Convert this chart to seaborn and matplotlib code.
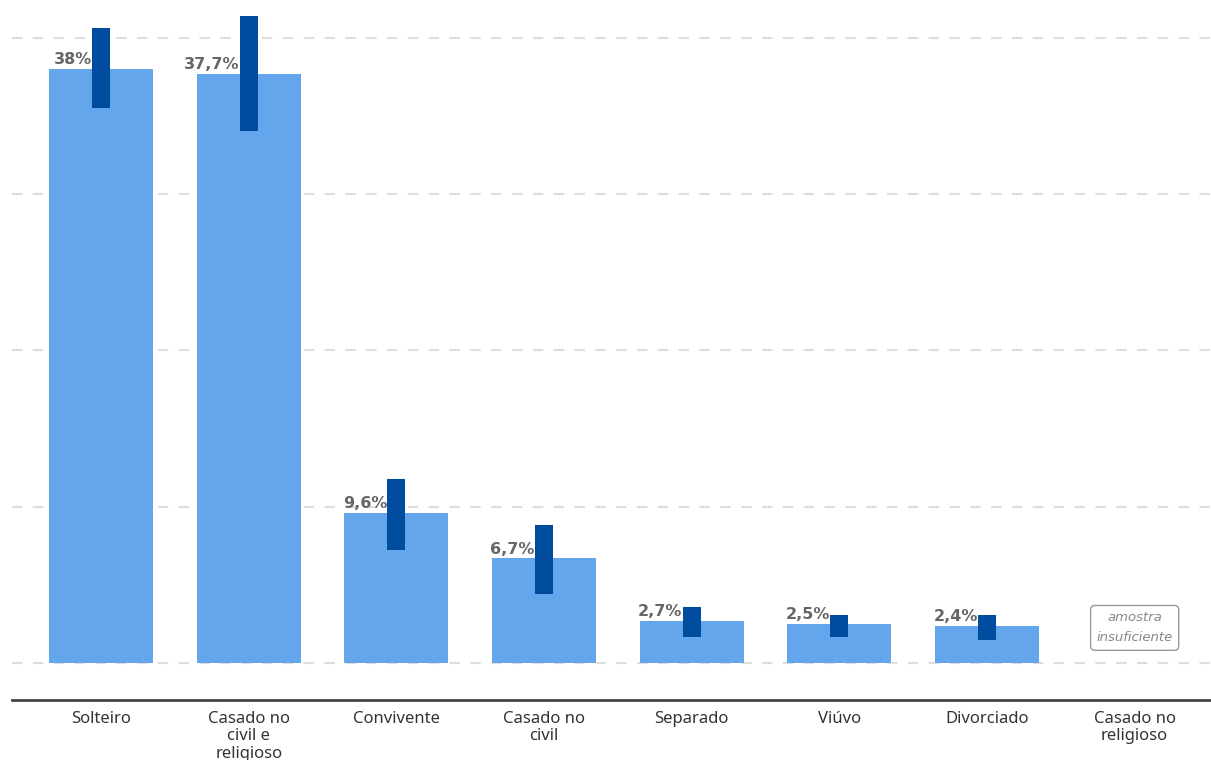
import matplotlib
matplotlib.use("Agg")
import matplotlib.pyplot as plt
import numpy as np
import pandas as pd
import seaborn as sns

categories = ["Solteiro", "Casado no\ncivil e\nreligioso", "Convivente", "Casado no\ncivil",
              "Separado", "Viúvo", "Divorciado", "Casado no\nreligioso"]
values = [38.0, 37.7, 9.6, 6.7, 2.7, 2.5, 2.4, np.nan]
labels = ["38%", "37,7%", "9,6%", "6,7%", "2,7%", "2,5%", "2,4%", ""]
err_low = [35.5, 34.0, 7.2, 4.4, 1.7, 1.7, 1.5, np.nan]
err_high = [40.6, 41.4, 11.8, 8.8, 3.6, 3.1, 3.1, np.nan]

sns.set_theme(style="white")
plt.rcParams["font.family"] = ["Noto Sans", "DejaVu Sans"]

df = pd.DataFrame({"cat": categories, "val": values})

fig = plt.figure(figsize=(12.11, 7.6), dpi=100)
ax = fig.add_axes([12 / 1211, 60 / 760, 1199 / 1211, 700 / 760])

sns.barplot(data=df, x="cat", y="val", color="#64A6EC", saturation=1, width=0.705,
            linewidth=0, ax=ax, zorder=2)

x = np.arange(len(categories))
lo = np.array(err_low)
hi = np.array(err_high)
ax.bar(x, hi - lo, bottom=lo, width=0.122, color="#004C9E", linewidth=0, zorder=3)

for xi, v, lab in zip(x, values, labels):
    if lab:
        ax.text(xi - 0.063, v + 0.1, lab, ha="right", va="bottom", fontsize=11.5,
                fontweight="bold", family="DejaVu Sans", color="#666666", zorder=4)

# empty sample marker
ax.text(7, 2.25, "amostra\ninsuficiente", ha="center", va="center", fontsize=9.5,
        style="italic", family="DejaVu Sans", color="#888888", linespacing=1.7,
        bbox=dict(boxstyle="round,pad=0.45,rounding_size=0.35", fc="white", ec="#999999", lw=1))

ax.set_ylim(-2.36, 42.4)
ax.set_xlim(-0.603, 7.517)
for g in [0, 10, 20, 30, 40]:
    ax.axhline(g, color="#dddddd", lw=1.5, ls=(0, (5, 5)), zorder=1)

ax.set_yticks([])
ax.set_xlabel("")
ax.set_ylabel("")
ax.tick_params(axis="x", length=0, pad=8, labelsize=12, labelcolor="#333333")
for t in ax.get_xticklabels():
    t.set_linespacing(1.1)
    t.set_va("top")
for s in ["top", "left", "right"]:
    ax.spines[s].set_visible(False)
ax.spines["bottom"].set_color("#444444")
ax.spines["bottom"].set_linewidth(2)

fig.savefig("out.png", dpi=100, facecolor="white")
